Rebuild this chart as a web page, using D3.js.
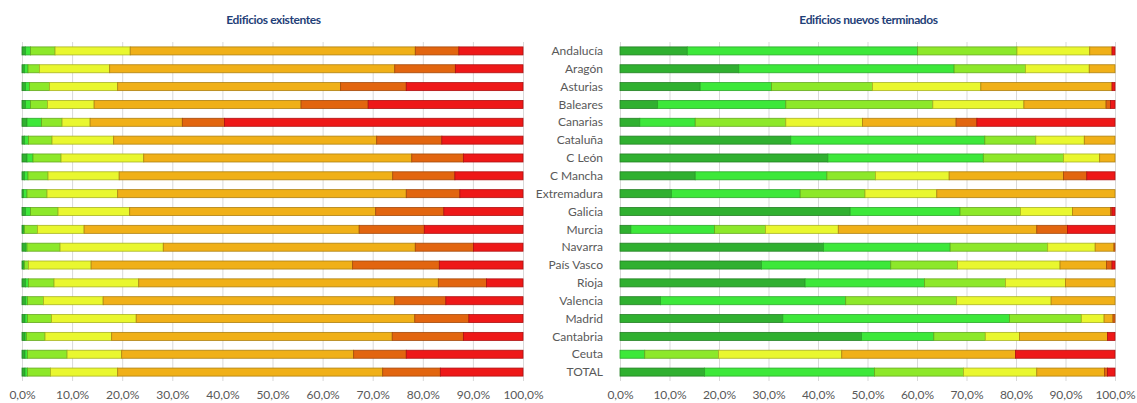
<!DOCTYPE html>
<html>
<head>
<meta charset="utf-8">
<script src="https://cdn.jsdelivr.net/npm/d3@7"></script>
<style>
  body { margin: 0; background: #fff; }
  svg { display: block; }
  .tick text { font-family: Lato, "Open Sans", sans-serif; font-size: 12px; fill: #595959; }
  .grid .tick line { stroke: #d9d9d9; stroke-width: 1; }
  .grid .domain { display: none; }
  .cat-label { font-family: Lato, "Open Sans", sans-serif; font-size: 12px; fill: #595959; }
  .title { font-family: Lato, sans-serif; font-size: 12px; letter-spacing: -0.4px; font-weight: bold; fill: #1F3F78; }
</style>
</head>
<body>
<div id="chart"></div>
<script>
//Categorías (comunidades)
const regions = ['Andalucía', 'Aragón', 'Asturias', 'Baleares', 'Canarias', 'Cataluña', 'C León',
  'C Mancha', 'Extremadura', 'Galicia', 'Murcia', 'Navarra', 'País Vasco', 'Rioja', 'Valencia',
  'Madrid', 'Cantabria', 'Ceuta', 'TOTAL'];

//Calificación energética
const classes = ['A', 'B', 'C', 'D', 'E', 'F', 'G'];
const classColors = ['#30B030', '#3DE83A', '#8DE82A', '#E9F72F', '#F0B018', '#E2650F', '#EE1818'];

//Edificios existentes (% por clase A..G)
const existentes = [
  [0.7, 1.0, 4.9, 15.0, 56.9, 8.7, 12.8],
  [0.5, 0.7, 2.3, 14.0, 56.9, 12.1, 13.5],
  [0.7, 0.8, 4.0, 13.6, 44.5, 13.1, 23.3],
  [0.7, 1.0, 3.4, 9.3, 41.3, 13.4, 30.9],
  [1.0, 2.9, 4.1, 5.6, 18.4, 8.4, 59.6],
  [0.5, 0.8, 4.7, 12.3, 52.5, 13.0, 16.2],
  [1.0, 1.2, 5.6, 16.5, 53.5, 10.3, 11.9],
  [0.5, 0.7, 4.0, 14.2, 54.6, 12.4, 13.6],
  [0.3, 0.7, 4.0, 14.1, 57.6, 10.7, 12.6],
  [0.7, 1.0, 5.5, 14.3, 49.1, 13.6, 15.8],
  [0.3, 0.2, 2.6, 9.3, 54.9, 13.0, 19.7],
  [0.7, 0.3, 6.6, 20.6, 50.3, 11.6, 9.9],
  [0.3, 0.2, 0.8, 12.5, 52.2, 17.3, 16.7],
  [0.7, 0.6, 5.1, 16.9, 59.8, 9.6, 7.3],
  [0.7, 0.4, 3.2, 11.9, 58.2, 10.2, 15.4],
  [0.6, 0.5, 4.8, 16.9, 55.6, 10.8, 10.8],
  [0.6, 0.3, 3.7, 13.3, 56.0, 14.2, 11.9],
  [0.6, 0.5, 7.9, 10.9, 46.3, 10.5, 23.3],
  [0.6, 0.5, 4.6, 13.4, 52.9, 11.5, 16.5]
];

//Edificios nuevos terminados (% por clase A..G)
const nuevos = [
  [13.6, 46.5, 20.1, 14.7, 4.5, 0.0, 0.6],
  [24.0, 43.5, 14.4, 12.9, 5.2, 0.0, 0.0],
  [16.2, 14.4, 20.4, 21.9, 26.5, 0.0, 0.6],
  [7.6, 25.9, 29.7, 18.4, 16.6, 0.9, 0.9],
  [4.0, 11.2, 18.3, 15.5, 18.9, 4.2, 27.9],
  [34.5, 39.2, 10.3, 9.8, 6.2, 0.0, 0.0],
  [42.0, 31.4, 16.2, 7.3, 3.1, 0.0, 0.0],
  [15.2, 26.6, 9.8, 14.9, 23.1, 4.7, 5.7],
  [10.4, 26.0, 13.1, 14.5, 36.0, 0.0, 0.0],
  [46.5, 22.2, 12.2, 10.5, 7.7, 0.3, 0.6],
  [2.2, 16.9, 10.3, 14.7, 40.1, 6.2, 9.6],
  [41.1, 25.6, 19.7, 9.6, 3.8, 0.2, 0.0],
  [28.6, 26.1, 13.5, 20.7, 9.4, 1.1, 0.6],
  [37.4, 24.1, 16.4, 12.1, 10.0, 0.0, 0.0],
  [8.2, 37.4, 22.4, 19.1, 12.9, 0.0, 0.0],
  [32.9, 45.8, 14.5, 4.6, 1.8, 0.4, 0.0],
  [48.8, 14.6, 10.4, 6.9, 17.8, 0.0, 1.5],
  [0.0, 5.0, 14.9, 24.9, 35.1, 0.0, 20.1],
  [17.1, 34.3, 18.0, 14.8, 13.7, 0.6, 1.5]
];

//Ticks del eje
const tickValues = [0, 10, 20, 30, 40, 50, 60, 70, 80, 90, 100];

const width = 1137, height = 403;
const esFormat = d3.formatLocale({decimal: ',', thousands: '.', grouping: [3], currency: ['', '€']}).format('.1f');

let svg = d3.select('#chart')
  .append('svg')
    .attr('width', width)
    .attr('height', height);

let y = d3.scaleBand()
  .domain(regions)
  .range([42, 381])
  .paddingInner(0.55)
  .paddingOuter(0.275);

let color = d3.scaleOrdinal().domain(classes).range(classColors);

function drawPanel(data, x0, x1, title) {
  let x = d3.scaleLinear().domain([0, 100]).range([x0, x1]);

  //Rejilla y etiquetas del eje
  svg.append('g')
    .attr('class', 'grid')
    .attr('transform', 'translate(0,381)')
    .call(d3.axisBottom(x).tickValues(tickValues).tickSize(-339).tickPadding(9)
      .tickFormat(function(d) { return esFormat(d) + '%'; }));

  //Título
  svg.append('text')
    .attr('class', 'title')
    .attr('x', (x0 + x1) / 2 + 1)
    .attr('y', 24)
    .attr('text-anchor', 'middle')
    .text(title);

  //Datos apilados
  let rows = regions.map(function(r, i) {
    let o = {region: r};
    classes.forEach(function(c, j) { o[c] = data[i][j]; });
    return o;
  });
  let series = d3.stack().keys(classes)(rows);

  svg.append('g')
    .selectAll('g')
    .data(series)
    .join('g')
      .attr('fill', function(d) { return color(d.key); })
      .attr('stroke', function(d) { return d3.color(color(d.key)).darker(0.9); })
      .attr('stroke-width', 0.8)
    .selectAll('rect')
    .data(function(d) { return d.filter(function(s) { return s[1] - s[0] > 0; }); })
    .join('rect')
      .attr('x', function(d) { return x(d[0]); })
      .attr('y', function(d) { return y(d.data.region); })
      .attr('width', function(d) { return x(d[1]) - x(d[0]); })
      .attr('height', y.bandwidth());
}

drawPanel(existentes, 22, 523, 'Edificios existentes');
drawPanel(nuevos, 620, 1115, 'Edificios nuevos terminados');

//Etiquetas de comunidades
svg.append('g')
  .selectAll('text')
  .data(regions)
  .join('text')
    .attr('class', 'cat-label')
    .attr('x', 603)
    .attr('y', function(d) { return y(d) + y.bandwidth() / 2; })
    .attr('dy', '0.35em')
    .attr('text-anchor', 'end')
    .text(function(d) { return d; });
</script>
</body>
</html>
